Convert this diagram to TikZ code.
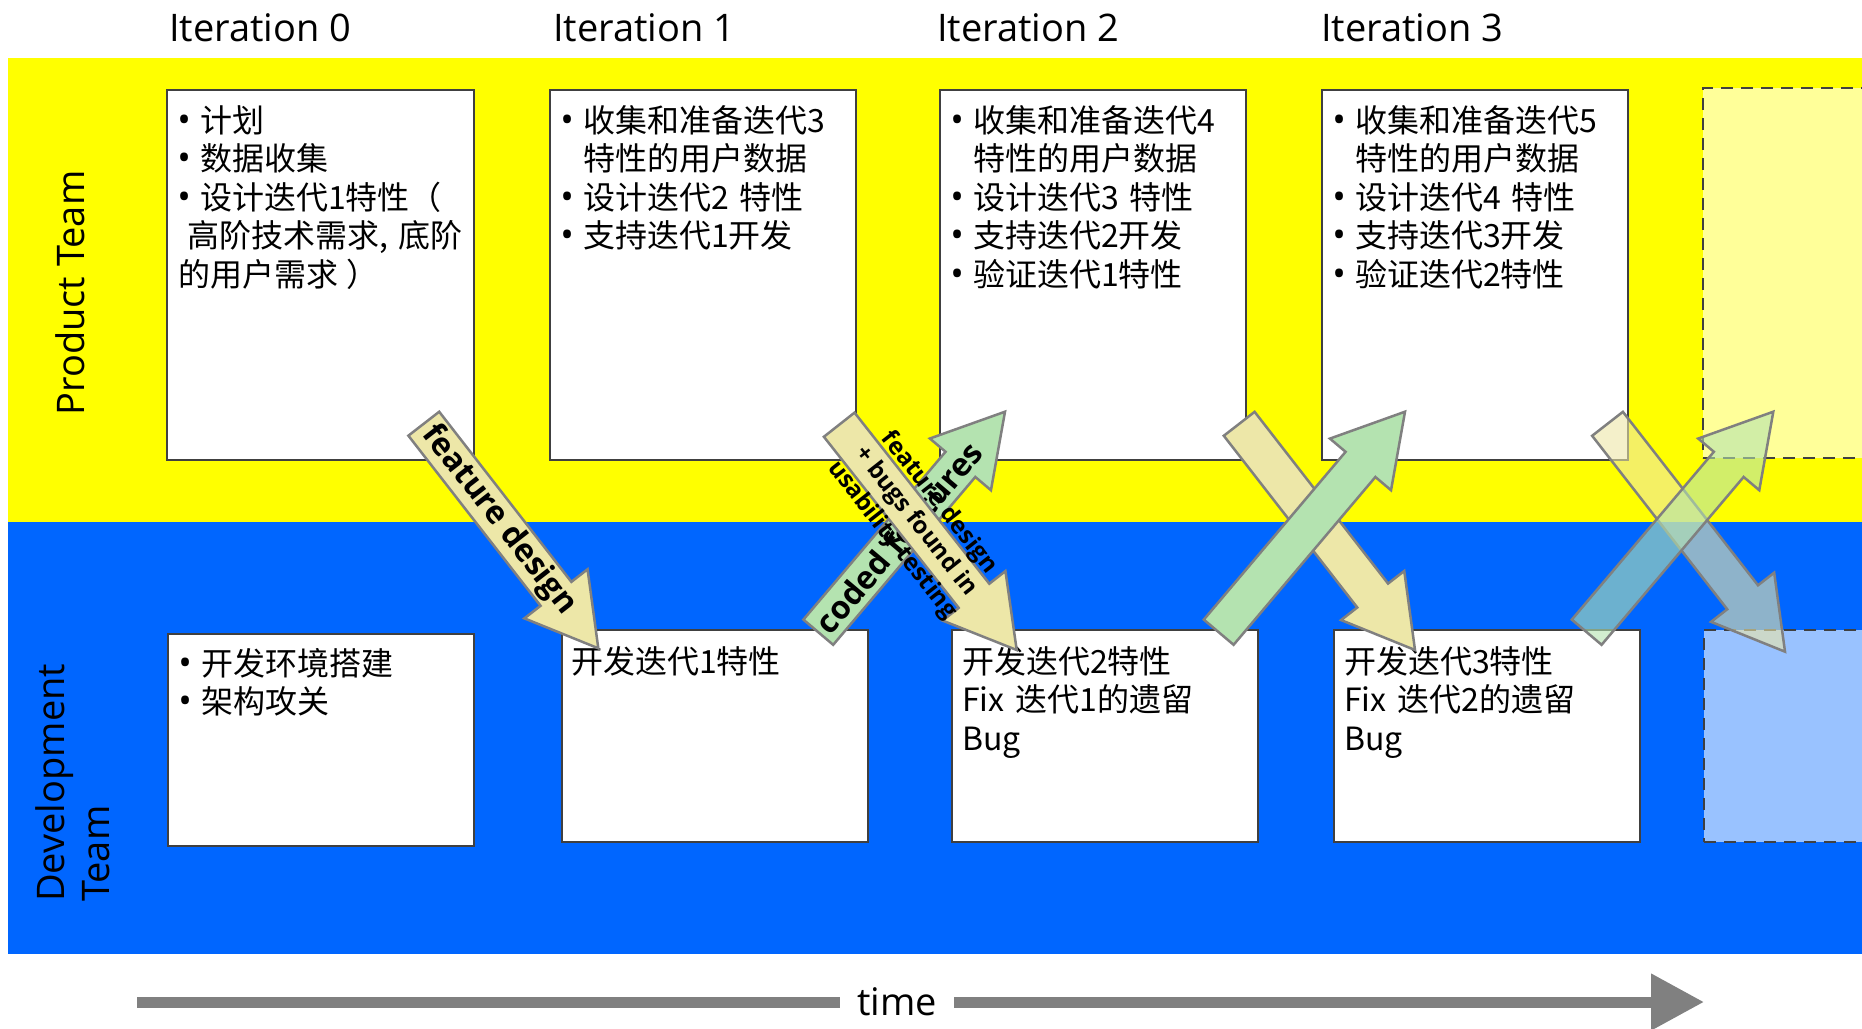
\documentclass[tikz,border=0pt]{standalone}
\usepackage{fontspec}
\setmainfont{Noto Sans CJK SC}
\newfontfamily\latinfont{Open Sans}
\usetikzlibrary{calc,arrows.meta}
\definecolor{bandyellow}{RGB}{255,255,0}
\definecolor{bandblue}{RGB}{0,102,255}
\definecolor{boxline}{RGB}{64,64,64}
\definecolor{tanfill}{RGB}{237,231,168}
\definecolor{greenfill}{RGB}{180,227,176}
\definecolor{arrowline}{RGB}{128,128,128}
\definecolor{paleyellow}{RGB}{255,255,153}
\definecolor{paleblue}{RGB}{153,194,255}
\newcommand\bul{\makebox[21pt][l]{\makebox[10pt][c]{\latinfont\fontsize{36}{36}\selectfont •}}}
\newcommand\blockarrow[3]{%
  \coordinate (#2-hb) at ($(#3)!69pt!(#2)$);
  \path[#1] ($(#2)!19.5pt!90:(#3)$) -- ($(#2-hb)!19.5pt!90:(#3)$) -- ($(#2-hb)!40pt!90:(#3)$) -- (#3) -- ($(#2-hb)!40pt!-90:(#3)$) -- ($(#2-hb)!19.5pt!-90:(#3)$) -- ($(#2)!19.5pt!-90:(#3)$) -- cycle;}
\tikzset{
  band/.style={draw=none, inner sep=0pt, outer sep=0pt, anchor=north west},
  box/.style={draw=boxline, line width=2.5pt, fill=white, inner sep=0pt, outer sep=0pt, anchor=north west},
  dashbox/.style={box, dash pattern=on 12pt off 8pt},
  cjktext/.style={inner sep=0pt, anchor=base west, align=left, text width=320pt, font=\fontsize{32}{38.5}\selectfont},
  iterlabel/.style={inner sep=0pt, anchor=base west, font=\latinfont\fontsize{38}{44}\selectfont},
  teamlabel/.style={inner sep=0pt, rotate=90, font=\latinfont\fontsize{38}{45}\selectfont},
  tanarrow/.style={draw=arrowline, line width=2.5pt, fill=tanfill},
  greenarrow/.style={draw=arrowline, line width=2.5pt, fill=greenfill},
  faded/.style={fill opacity=0.6},
  arrowlabel/.style={inner sep=0pt, align=center, font=\latinfont\bfseries\fontsize{32}{36}\selectfont},
  smalllabel/.style={inner sep=0pt, align=center, font=\latinfont\bfseries\fontsize{24}{30}\selectfont},
  timeline/.style={draw=arrowline, line width=11pt},
}
\begin{document}
\begin{tikzpicture}[x=1pt, y=-1pt]
\useasboundingbox (0,0) rectangle (1862,1028);
% bands
\node[band, fill=bandyellow, minimum width=1854pt, minimum height=464pt] (prodband) at (8,58) {};
\node[band, fill=bandblue, minimum width=1854pt, minimum height=432pt] (devband) at (8,522) {};
% iteration labels
\node[iterlabel] (it0) at (169,41) {Iteration 0};
\node[iterlabel] (it1) at (553,41) {Iteration 1};
\node[iterlabel] (it2) at (937,41) {Iteration 2};
\node[iterlabel] (it3) at (1321,41) {Iteration 3};
% team labels
\node[teamlabel, anchor=base] (pt) at (84,293) {Product Team};
\node[teamlabel, anchor=base west, align=left, text width=260pt] (dt) at (64,902) {Development\\Team};
% top boxes
\node[box, minimum width=307pt, minimum height=370pt] (top0) at (167,90) {};
\node[box, minimum width=306pt, minimum height=370pt] (top1) at (550,90) {};
\node[box, minimum width=306pt, minimum height=370pt] (top2) at (940,90) {};
\node[box, minimum width=306pt, minimum height=370pt] (top3) at (1322,90) {};
\node[dashbox, fill=paleyellow, minimum width=220pt, minimum height=370pt] (top4) at (1703,88) {};
% bottom boxes
\node[box, minimum width=306pt, minimum height=212pt] (bot0) at (168,634) {};
\node[box, minimum width=306pt, minimum height=212pt] (bot1) at (562,630) {};
\node[box, minimum width=306pt, minimum height=212pt] (bot2) at (952,630) {};
\node[box, minimum width=306pt, minimum height=212pt] (bot3) at (1334,630) {};
\node[dashbox, fill=paleblue, minimum width=220pt, minimum height=212pt] (bot4) at (1704,630) {};
% top texts
\node[cjktext] (t0) at (179,132) {\bul 计划\\ \bul 数据收集\\ \bul 设计迭代1特性（\\ \hspace*{8pt}高阶技术需求, 底阶\\ \hspace*{-1pt}的用户需求\hspace{8pt}）};
\node[cjktext] (t1) at (562,132) {\bul 收集和准备迭代3\\ \hspace*{21pt}特性的用户数据\\ \bul 设计迭代2 特性\\ \bul 支持迭代1开发};
\node[cjktext] (t2) at (952,132) {\bul 收集和准备迭代4\\ \hspace*{21pt}特性的用户数据\\ \bul 设计迭代3 特性\\ \bul 支持迭代2开发\\ \bul 验证迭代1特性};
\node[cjktext] (t3) at (1334,132) {\bul 收集和准备迭代5\\ \hspace*{21pt}特性的用户数据\\ \bul 设计迭代4 特性\\ \bul 支持迭代3开发\\ \bul 验证迭代2特性};
% bottom texts
\node[cjktext] (b0) at (180,675) {\bul 开发环境搭建\\ \bul 架构攻关};
\node[cjktext] (b1) at (571,673) {开发迭代1特性};
\node[cjktext] (b2) at (962,673) {开发迭代2特性\\ Fix 迭代1的遗留\\ Bug};
\node[cjktext] (b3) at (1344,673) {开发迭代3特性\\ Fix 迭代2的遗留\\ Bug};
% arrow end points
\coordinate (ta1) at (423.8,423.7); \coordinate (tp1) at (598.3,648.3);
\coordinate (ta2) at (839.2,424.7); \coordinate (tp2) at (1016.7,650);
\coordinate (ta3) at (1239.2,423.8); \coordinate (tp3) at (1415,650);
\coordinate (ta4) at (1607.5,423.8); \coordinate (tp4) at (1785,651.7);
\coordinate (ga2) at (818.3,632.2); \coordinate (gp2) at (1005,411.7);
\coordinate (ga3) at (1218.7,632.2); \coordinate (gp3) at (1405,411.7);
\coordinate (ga4) at (1586.7,632.2); \coordinate (gp4) at (1773.3,411.7);
% iteration 0 -> 1
\blockarrow{tanarrow}{ta1}{tp1}
\node[arrowlabel, rotate=-52.1] (lab1) at ($(ta1)!0.43!(tp1)$) {feature design};
% iteration 1 -> 2
\blockarrow{greenarrow}{ga2}{gp2}
\node[arrowlabel, rotate=49.8] (lab2g) at ($(ga2)!0.43!(gp2)$) {coded features};
\blockarrow{tanarrow}{ta2}{tp2}
\node[smalllabel, rotate=-51.8] (lab2t) at ($(ta2)!0.43!(tp2)$) {feature design\\+ bugs found in\\usability testing};
% iteration 2 -> 3
\blockarrow{tanarrow}{ta3}{tp3}
\blockarrow{greenarrow}{ga3}{gp3}
% iteration 3 -> 4
\blockarrow{tanarrow,faded}{ta4}{tp4}
\blockarrow{greenarrow,faded}{ga4}{gp4}
% time axis
\coordinate (tstart) at (137,1002);
\coordinate (tend) at (1704,1002);
\node[inner sep=0pt, minimum width=114pt, font=\latinfont\fontsize{38}{44}\selectfont] (time) at (897,1002) {time};
\draw[timeline] (tstart) -- (time.west);
\draw[timeline, -{Triangle[length=53pt, width=54pt]}] (time.east) -- (tend);
\end{tikzpicture}
\end{document}
